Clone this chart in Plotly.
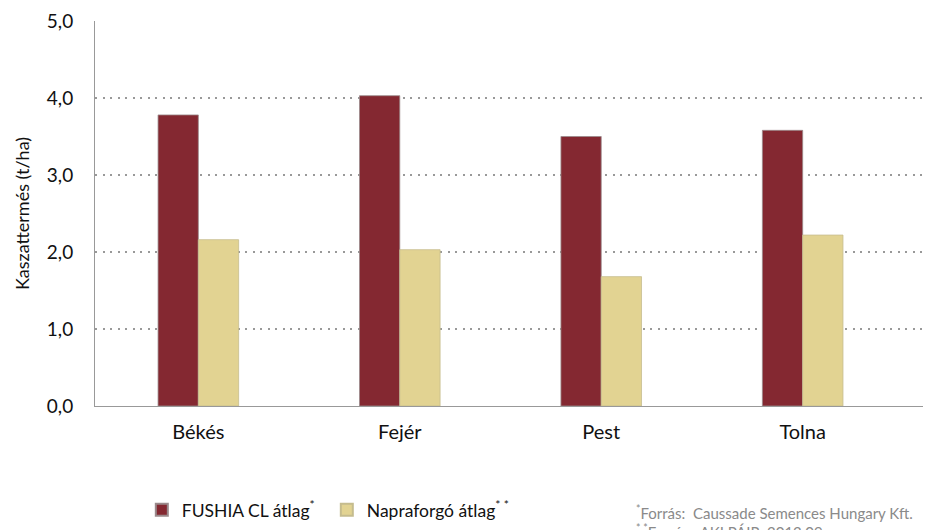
import plotly.graph_objects as go

categories = ["Békés", "Fejér", "Pest", "Tolna"]
fushia_values = [3.78, 4.03, 3.50, 3.58]
napraforgo_values = [2.16, 2.03, 1.68, 2.22]
series_names = ["FUSHIA CL átlag<sup>*</sup>", "Napraforgó átlag<sup>* *</sup>"]
y_ticks = [0, 1, 2, 3, 4, 5]

FONT = "Lato, 'Open Sans', sans-serif"

fig = go.Figure()
fig.add_trace(go.Bar(
    x=categories, y=fushia_values, name=series_names[0],
    marker=dict(color="#842831", line=dict(color="#9a8a8c", width=0.8)),
))
fig.add_trace(go.Bar(
    x=categories, y=napraforgo_values, name=series_names[1],
    marker=dict(color="#e2d392", line=dict(color="#c5bc8e", width=0.8)),
))

fig.update_layout(
    width=931, height=530,
    margin=dict(l=87, r=8, t=13, b=132),
    paper_bgcolor="white", plot_bgcolor="white",
    barmode="group", bargap=0.6, bargroupgap=0,
    separators=",.",
    font=dict(family=FONT, size=16, color="#111"),
    showlegend=True,
    legend=dict(
        orientation="h", x=0.056, y=-0.223, xanchor="left", yanchor="top",
        font=dict(size=17.5, color="#111"),
        entrywidth=140, entrywidthmode="pixels",
        itemsizing="constant", traceorder="normal",
    ),
    xaxis=dict(
        range=[-0.513, 3.637], showgrid=False, showline=True, automargin=False,
        linecolor="#999", linewidth=1, ticks="", ticklabelstandoff=8,
        tickfont=dict(size=20, color="#111"), fixedrange=True,
    ),
    yaxis=dict(
        range=[0, 5], tickvals=y_ticks, tickformat=".1f", automargin=False,
        showgrid=True, gridcolor="#999", griddash="2px,5.5px", gridwidth=1.5,
        showline=True, linecolor="#999", linewidth=1, ticks="",
        ticklabelstandoff=17, zeroline=False,
        tickfont=dict(size=19, color="#111"),
        title=dict(text="Kaszattermés (t/ha)", font=dict(size=18, color="#111"), standoff=12),
    ),
    annotations=[
        dict(xref="paper", yref="paper", x=(634 - 95) / 836, y=(406 - 501) / 385,
             xanchor="left", yanchor="top", showarrow=False, align="left",
             text="<sup>*</sup>Forrás:  Caussade Semences Hungary Kft.",
             font=dict(size=15, color="#8a8a8a")),
        dict(xref="paper", yref="paper", x=(634 - 95) / 836, y=(406 - 520) / 385,
             xanchor="left", yanchor="top", showarrow=False, align="left",
             text="<sup>* *</sup>Forrás:  AKI PÁIR, 2012.09.",
             font=dict(size=15, color="#8a8a8a")),
    ],
)

fig.write_html("out.html")
